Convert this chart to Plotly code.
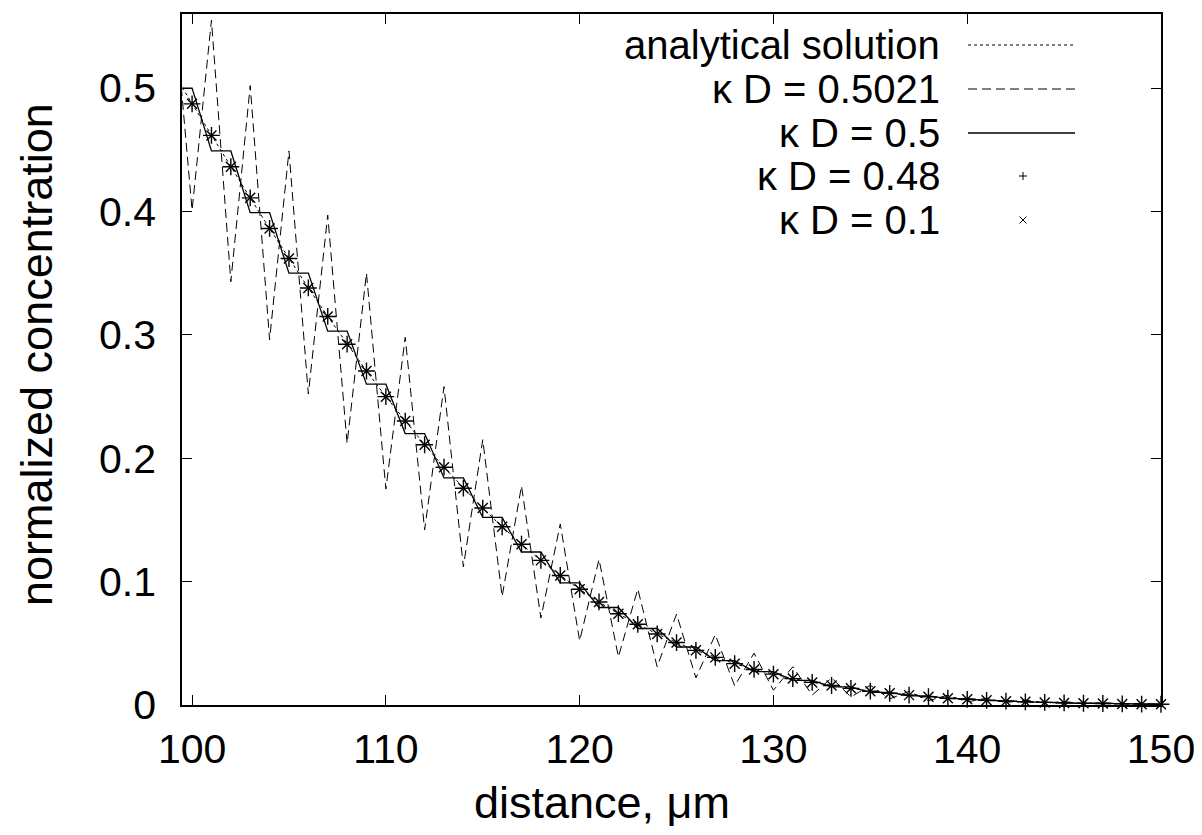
import plotly.graph_objects as go

# ---------------- data ----------------
distance = list(range(99, 151))          # grid positions, micrometres
marker_distance = list(range(100, 151))

analytical = [0.5128, 0.4872, 0.4616, 0.4362, 0.4110, 0.3862, 0.3618, 0.3380, 0.3149, 0.2924,
              0.2707, 0.2499, 0.2301, 0.2109, 0.1927, 0.1757, 0.1596, 0.1444, 0.1303, 0.1172,
              0.1050, 0.0938, 0.0835, 0.0740, 0.0654, 0.0576, 0.0506, 0.0443, 0.0386, 0.0335,
              0.0288, 0.0250, 0.0214, 0.0183, 0.0158, 0.0135, 0.0112, 0.0095, 0.0080, 0.0067,
              0.0055, 0.0046, 0.0038, 0.0031, 0.0026, 0.0021, 0.0017, 0.0014, 0.0012, 0.0009,
              0.0007, 0.0006]

kd_05021 = [0.580, 0.401, 0.555, 0.343, 0.502, 0.296, 0.449, 0.252, 0.397, 0.212,
            0.350, 0.175, 0.298, 0.142, 0.258, 0.112, 0.215, 0.088, 0.1775, 0.0705,
            0.1467, 0.052, 0.118, 0.039, 0.094, 0.031, 0.0737, 0.022, 0.057, 0.0155,
            0.042, 0.012, 0.031, 0.008, 0.022, 0.0065, 0.016, 0.005, 0.011, 0.0035,
            0.008, 0.0025, 0.0055, 0.002, 0.004, 0.0015, 0.0028, 0.001, 0.002, 0.0007,
            0.0014, 0.0005]

kd_05 = [0.500, 0.500, 0.449, 0.449, 0.399, 0.399, 0.350, 0.350, 0.303, 0.303,
         0.260, 0.260, 0.220, 0.220, 0.184, 0.184, 0.152, 0.152, 0.124, 0.124,
         0.099, 0.099, 0.079, 0.079, 0.062, 0.062, 0.047, 0.047, 0.036, 0.036,
         0.027, 0.027, 0.020, 0.020, 0.0147, 0.0147, 0.0103, 0.0103, 0.0074, 0.0074,
         0.0051, 0.0051, 0.0035, 0.0035, 0.0024, 0.0024, 0.0016, 0.0016, 0.0011, 0.0011,
         0.0007, 0.0007]

kd_048 = [0.4872, 0.4616, 0.4362, 0.4110, 0.3862, 0.3618, 0.3380, 0.3149, 0.2924,
          0.2707, 0.2499, 0.2301, 0.2109, 0.1927, 0.1757, 0.1596, 0.1444, 0.1303, 0.1172,
          0.1050, 0.0938, 0.0835, 0.0740, 0.0654, 0.0576, 0.0506, 0.0443, 0.0386, 0.0335,
          0.0288, 0.0250, 0.0214, 0.0183, 0.0158, 0.0135, 0.0112, 0.0095, 0.0080, 0.0067,
          0.0055, 0.0046, 0.0038, 0.0031, 0.0026, 0.0021, 0.0017, 0.0014, 0.0012, 0.0009,
          0.0007, 0.0006]

kd_01 = [0.4872, 0.4616, 0.4362, 0.4110, 0.3862, 0.3618, 0.3380, 0.3149, 0.2924,
         0.2707, 0.2499, 0.2301, 0.2109, 0.1927, 0.1757, 0.1596, 0.1444, 0.1303, 0.1172,
         0.1050, 0.0938, 0.0835, 0.0740, 0.0654, 0.0576, 0.0506, 0.0443, 0.0386, 0.0335,
         0.0288, 0.0250, 0.0214, 0.0183, 0.0158, 0.0135, 0.0112, 0.0095, 0.0080, 0.0067,
         0.0055, 0.0046, 0.0038, 0.0031, 0.0026, 0.0021, 0.0017, 0.0014, 0.0012, 0.0009,
         0.0007, 0.0006]

legend_labels = ["analytical solution", "κ D = 0.5021", "κ D = 0.5", "κ D = 0.48", "κ D = 0.1"]
x_ticks = [100, 110, 120, 130, 140, 150]
y_ticks = [0, 0.1, 0.2, 0.3, 0.4, 0.5]
y_tick_text = ["0", "0.1", "0.2", "0.3", "0.4", "0.5"]
x_title = "distance, μm"
y_title = "normalized concentration"

# ---------------- styling ----------------
FONT = "Liberation Sans, Arial, Helvetica, sans-serif"
FS_TICK = 41
FS_TITLE = 45
FS_KEY = 40
OFF = 8                     # page body margin offset
W, H = 1202 - 2 * OFF, 835 - 2 * OFF
# plot box in window pixels (reference): left 182, right 1161, top 14, bottom 705
L_REF, R_REF, T_REF, B_REF = 182, 1161, 14, 705
ML, MT = L_REF - OFF, T_REF - OFF
MR, MB = W - (R_REF - OFF), H - (B_REF - OFF)
PW, PH = R_REF - L_REF, B_REF - T_REF

DOT = "3px,3px"
DASH = "9px,5px"

fig = go.Figure()
fig.add_trace(go.Scatter(x=distance, y=analytical, mode="lines", name=legend_labels[0],
                         line=dict(color="black", width=1, dash=DOT)))
fig.add_trace(go.Scatter(x=distance, y=kd_05021, mode="lines", name=legend_labels[1],
                         line=dict(color="black", width=1, dash=DASH)))
fig.add_trace(go.Scatter(x=distance, y=kd_05, mode="lines", name=legend_labels[2],
                         line=dict(color="black", width=1.3)))
fig.add_trace(go.Scatter(x=marker_distance, y=kd_048, mode="markers", name=legend_labels[3],
                         cliponaxis=False,
                         marker=dict(symbol="cross-thin", size=12, line=dict(color="black", width=1.4))))
fig.add_trace(go.Scatter(x=marker_distance, y=kd_01, mode="markers", name=legend_labels[4],
                         cliponaxis=False,
                         marker=dict(symbol="x-thin", size=10, line=dict(color="black", width=1.4))))

axis_common = dict(showgrid=False, zeroline=False, showline=True, linecolor="black", linewidth=1.6,
                   mirror="ticks", ticks="inside", ticklen=10, tickwidth=1.3, tickcolor="black",
                   ticklabeloverflow="allow",
                   tickfont=dict(family=FONT, size=FS_TICK, color="black"))

fig.update_xaxes(range=[99.48, 150], tickvals=x_ticks, ticklabelstandoff=7, **axis_common)
fig.update_yaxes(range=[0, 0.56], tickvals=y_ticks, ticktext=y_tick_text, ticklabelstandoff=16,
                 **axis_common)


# ---------------- positions in window pixels -> paper coordinates ----------------
def px(xp):
    return (xp - L_REF) / PW


def py(yp):
    return (B_REF - yp) / PH


annotations = [
    dict(x=px(602), y=py(803), xref="paper", yref="paper", text=x_title, showarrow=False,
         xanchor="center", yanchor="middle", font=dict(family=FONT, size=FS_TITLE, color="black")),
    dict(x=px(36), y=py(355), xref="paper", yref="paper", text=y_title, showarrow=False,
         textangle=-90, xanchor="center", yanchor="middle",
         font=dict(family=FONT, size=FS_TITLE, color="black")),
]

# gnuplot-style key: right-aligned text with the sample to its right
text_right = 942
row_y = [45, 89, 133, 176, 220]
s_x0, s_x1, s_xm = 968, 1075, 1023
shapes = []
for lab, yy in zip(legend_labels, row_y):
    annotations.append(dict(x=px(text_right), y=py(yy), xref="paper", yref="paper", text=lab,
                            showarrow=False, xanchor="right", yanchor="middle",
                            font=dict(family=FONT, size=FS_KEY, color="black")))
for dash, yy, wdt in [(DOT, row_y[0], 1), (DASH, row_y[1], 1), ("solid", row_y[2], 1.3)]:
    shapes.append(dict(type="line", xref="paper", yref="paper", x0=px(s_x0), x1=px(s_x1),
                       y0=py(yy), y1=py(yy), line=dict(color="black", width=wdt, dash=dash)))
a = 4
yy = row_y[3]
shapes.append(dict(type="line", xref="paper", yref="paper", x0=px(s_xm - a), x1=px(s_xm + a),
                   y0=py(yy), y1=py(yy), line=dict(color="black", width=1)))
shapes.append(dict(type="line", xref="paper", yref="paper", x0=px(s_xm), x1=px(s_xm),
                   y0=py(yy - a), y1=py(yy + a), line=dict(color="black", width=1)))
yy = row_y[4]
b = 3.5
shapes.append(dict(type="line", xref="paper", yref="paper", x0=px(s_xm - b), x1=px(s_xm + b),
                   y0=py(yy - b), y1=py(yy + b), line=dict(color="black", width=1)))
shapes.append(dict(type="line", xref="paper", yref="paper", x0=px(s_xm - b), x1=px(s_xm + b),
                   y0=py(yy + b), y1=py(yy - b), line=dict(color="black", width=1)))

fig.update_layout(width=W, height=H, margin=dict(l=ML, r=MR, t=MT, b=MB, autoexpand=False),
                  paper_bgcolor="white", plot_bgcolor="white", showlegend=False,
                  shapes=shapes, annotations=annotations,
                  font=dict(family=FONT, size=FS_TICK, color="black"))

fig.write_html("out.html")
